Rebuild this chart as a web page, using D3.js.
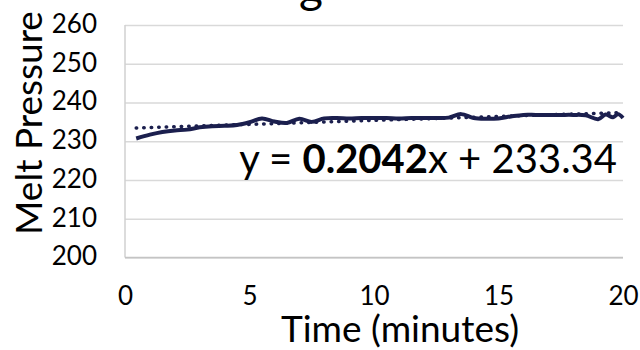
<!DOCTYPE html>
<html>
<head>
<meta charset="utf-8" />
<script src="https://d3js.org/d3.v7.min.js"></script>
<style>
    body { margin: 0; background: #fff; }
    svg { font-family: Lato, "Open Sans", sans-serif; }
    .grid line { stroke: #d9d9d9; stroke-width: 1.5; }
    .grid path { display: none; }
    .tick text { fill: #000; }
</style>
</head>
<body>
<div id="chart"></div>
<script>
// minutes
var timeMin = [0.45, 1.0, 1.5, 2.0, 2.5, 3.0, 3.5, 4.0, 4.5, 5.0, 5.5, 6.0, 6.5, 7.0, 7.5, 8.0, 8.5, 9.0, 9.5, 10,
               10.5, 11, 11.5, 12, 12.5, 13, 13.5, 14, 14.5, 15, 15.5, 16, 16.5, 17, 17.5, 18, 18.5, 19.0, 19.3, 19.6, 19.8, 20.0];
var pressure = [230.7, 231.7, 232.4, 232.8, 233.0, 233.6, 233.9, 234.0, 234.2, 234.9, 235.9, 235.1, 234.7, 235.8, 235.0, 235.9, 236.0, 235.9, 236.0, 236.0,
                236.0, 235.9, 236.0, 236.0, 236.0, 236.1, 237.0, 236.0, 235.8, 235.9, 236.4, 236.8, 236.8, 236.8, 236.8, 236.8, 236.7, 235.7, 236.9, 236.2, 237.0, 236.0];
var yTicks = [200, 210, 220, 230, 240, 250, 260];
var xTicks = [0, 5, 10, 15, 20];
var slope = 0.2042, intercept = 233.34;
var trendT = [0.45, 20];

var W = 640, H = 350;
var mLeft = 125, mRight = 623, mTop = 25, mBottom = 257.5;

var svg = d3.select("#chart").append("svg")
    .attr("width", W)
    .attr("height", H);

var x = d3.scaleLinear().domain([0, 20]).range([mLeft, mRight]);
var y = d3.scaleLinear().domain([200, 260]).range([mBottom, mTop]);

// cut-off title glyph at the very top
svg.append("text")
    .attr("x", 311).attr("y", 3)
    .attr("text-anchor", "middle")
    .attr("font-size", 46)
    .text("g");

// gridlines
svg.append("g")
    .attr("class", "grid")
    .attr("transform", "translate(" + mLeft + ",0)")
    .call(d3.axisLeft(y).tickValues(yTicks).tickSize(-(mRight - mLeft)).tickFormat(""));

// axis lines
svg.append("line")
    .attr("x1", mLeft).attr("x2", mLeft).attr("y1", mTop).attr("y2", mBottom)
    .attr("stroke", "#d0d0d0").attr("stroke-width", 1.5);
svg.append("line")
    .attr("x1", mLeft).attr("x2", mRight).attr("y1", mBottom).attr("y2", mBottom)
    .attr("stroke", "#c4c4c4").attr("stroke-width", 1.5);

// y tick labels
var ya = svg.append("g")
    .attr("transform", "translate(" + (mLeft - 28) + ",0)")
    .call(d3.axisLeft(y).tickValues(yTicks).tickSize(0).tickPadding(0));
ya.select(".domain").remove();
ya.selectAll("text").attr("font-size", 26).attr("font-family", "Lato").attr("dy", "0.28em");

// x tick labels
var xa = svg.append("g")
    .attr("transform", "translate(0," + (mBottom + 29) + ")")
    .call(d3.axisBottom(x).tickValues(xTicks).tickSize(0).tickPadding(0));
xa.select(".domain").remove();
xa.selectAll("text").attr("font-size", 26).attr("font-family", "Lato").attr("dy", "0.72em");

// data line
var line = d3.line()
    .x(function(d, i) { return x(timeMin[i]); })
    .y(function(d) { return y(d); })
    .curve(d3.curveCatmullRom);
svg.append("path")
    .datum(pressure)
    .attr("d", line)
    .attr("fill", "none")
    .attr("stroke", "#1b1f4e")
    .attr("stroke-width", 4)
    .attr("stroke-linejoin", "round");

// linear trendline
svg.append("path")
    .datum(trendT)
    .attr("d", d3.line()
        .x(function(t) { return x(t); })
        .y(function(t) { return y(slope * t + intercept); }))
    .attr("fill", "none")
    .attr("stroke", "#1b1f4e")
    .attr("stroke-width", 3.5)
    .attr("stroke-linecap", "round")
    .attr("stroke-dasharray", "0.5,7");

// equation
var eq = svg.append("text")
    .attr("x", 617).attr("y", 173)
    .attr("text-anchor", "end")
    .attr("font-size", 40)
    .attr("fill", "#000");
eq.append("tspan").text("y = ");
eq.append("tspan").attr("font-weight", "bold").text(slope.toFixed(4));
eq.append("tspan").text("x + " + intercept.toFixed(2));

// axis titles
svg.append("text")
    .attr("x", 400).attr("y", 342)
    .attr("text-anchor", "middle")
    .attr("font-size", 37)
    .text("Time (minutes)");
svg.append("text")
    .attr("transform", "translate(42,123) rotate(-90)")
    .attr("text-anchor", "middle")
    .attr("font-size", 37)
    .text("Melt Pressure");
</script>
</body>
</html>
